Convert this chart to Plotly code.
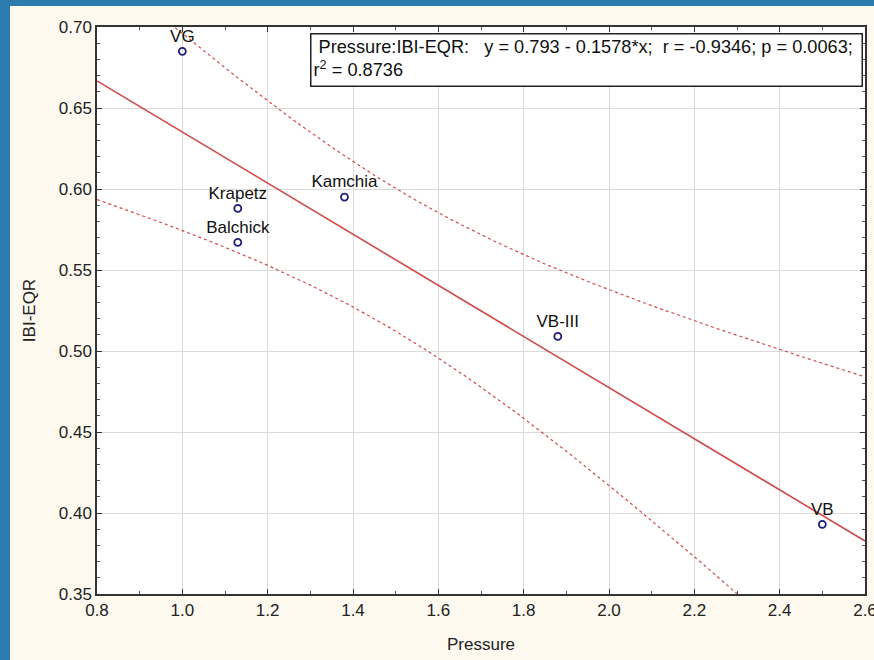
import numpy as np
import plotly.graph_objects as go

# ---- data ----
sites = ["VG", "Krapetz", "Balchick", "Kamchia", "VB-III", "VB"]
pressure = [1.00, 1.13, 1.13, 1.38, 1.88, 2.50]
ibi_eqr = [0.685, 0.588, 0.567, 0.595, 0.509, 0.393]

# regression coefficients as reported on the chart
intercept = 0.793
slope = -0.1578
t_crit = 2.776  # t(0.975, df=4)

x_tick_vals = [0.8, 1.0, 1.2, 1.4, 1.6, 1.8, 2.0, 2.2, 2.4, 2.6]
x_tick_text = ["0.8", "1.0", "1.2", "1.4", "1.6", "1.8", "2.0", "2.2", "2.4", "2.6"]
y_tick_vals = [0.35, 0.40, 0.45, 0.50, 0.55, 0.60, 0.65, 0.70]
y_tick_text = ["0.35", "0.40", "0.45", "0.50", "0.55", "0.60", "0.65", "0.70"]

# ---- derived: fitted line and 95% confidence band ----
xa = np.array(pressure)
ya = np.array(ibi_eqr)
n = len(xa)
xm = xa.mean()
sxx = ((xa - xm) ** 2).sum()
resid = ya - (intercept + slope * xa)
s = np.sqrt((resid ** 2).sum() / (n - 2))
xg = np.linspace(0.8, 2.6, 181)
yfit = intercept + slope * xg
half = t_crit * s * np.sqrt(1.0 / n + (xg - xm) ** 2 / sxx)
upper = yfit + half
lower = yfit - half

RED = "#D24848"
FONT = "Liberation Sans, Arial, sans-serif"
FS = 17
CREAM = "#FDF9EF"

fig = go.Figure()
fig.add_trace(go.Scatter(x=xg, y=upper, mode="lines",
                         line=dict(color=RED, width=1.2, dash="3px,3px"),
                         hoverinfo="skip", showlegend=False))
fig.add_trace(go.Scatter(x=xg, y=lower, mode="lines",
                         line=dict(color=RED, width=1.2, dash="3px,3px"),
                         hoverinfo="skip", showlegend=False))
fig.add_trace(go.Scatter(x=xg, y=yfit, mode="lines",
                         line=dict(color=RED, width=1.6),
                         hoverinfo="skip", showlegend=False))
fig.add_trace(go.Scatter(x=pressure, y=ibi_eqr, mode="markers+text",
                         text=sites, textposition="top center",
                         textfont=dict(family=FONT, size=FS, color="#111111"),
                         marker=dict(symbol="circle-open", size=7,
                                     color="#1F1F7A", line=dict(width=1.8, color="#1F1F7A")),
                         showlegend=False, cliponaxis=False))

# blue frame strips (left and top), outside the plot area
BLUE = "#2B7BAE"
fig.add_shape(type="rect", xref="paper", yref="paper",
              x0=-0.2, x1=(10 - 97) / 768, y0=-0.3, y1=1.1,
              fillcolor=BLUE, line=dict(width=0), layer="below")
fig.add_shape(type="rect", xref="paper", yref="paper",
              x0=-0.2, x1=1.02, y0=1 + 21 / 567, y1=1.1,
              fillcolor=BLUE, line=dict(width=0), layer="below")

fig.add_annotation(xref="paper", yref="paper",
                   x=(310 - 97) / 768, y=1 - 6 / 567, xanchor="left", yanchor="top",
                   text="&nbsp;Pressure:IBI-EQR:   y = 0.793 - 0.1578*x;  r = -0.9346; p = 0.0063;<br>r<sup>2</sup> = 0.8736",
                   align="left", showarrow=False,
                   font=dict(family=FONT, size=18.2, color="#111111"),
                   bgcolor="white", bordercolor="#222222", borderwidth=1.5, borderpad=2,
                   width=546, height=47, valign="top")

axis_common = dict(
    showline=True, linecolor="#333333", linewidth=1.5, mirror="ticks",
    ticks="inside", ticklen=5, tickcolor="#333333", tickwidth=1,
    showgrid=True, gridcolor="#DADADA", gridwidth=1, zeroline=False,
    tickfont=dict(family=FONT, size=FS, color="#222222"),
    ticklabeloverflow="allow", automargin=False,
)

fig.update_xaxes(range=[0.8, 2.6], tickmode="array", tickvals=x_tick_vals, ticktext=x_tick_text,
                 minor=dict(dtick=0.1, ticks="inside", ticklen=3, tickcolor="#555555", showgrid=False),
                 title=dict(text="Pressure", font=dict(family=FONT, size=FS, color="#222222"), standoff=19),
                 **axis_common)
fig.update_yaxes(range=[0.35, 0.70], tickmode="array", tickvals=y_tick_vals, ticktext=y_tick_text,
                 minor=dict(dtick=0.01, tick0=0.35, ticks="inside", ticklen=3, tickcolor="#555555", showgrid=False),
                 title=dict(text="IBI-EQR", font=dict(family=FONT, size=FS, color="#222222"), standoff=19),
                 **axis_common)

fig.update_layout(width=874, height=660,
                  margin=dict(l=97, r=9, t=27, b=66),
                  paper_bgcolor=CREAM, plot_bgcolor="white",
                  font=dict(family=FONT))

fig.write_html("out.html", config={"displayModeBar": False},
               post_script="document.body.style.margin='0';document.body.style.overflow='hidden';"
                           "document.body.style.background='" + CREAM + "';"
                           "document.documentElement.style.background='" + CREAM + "';")
